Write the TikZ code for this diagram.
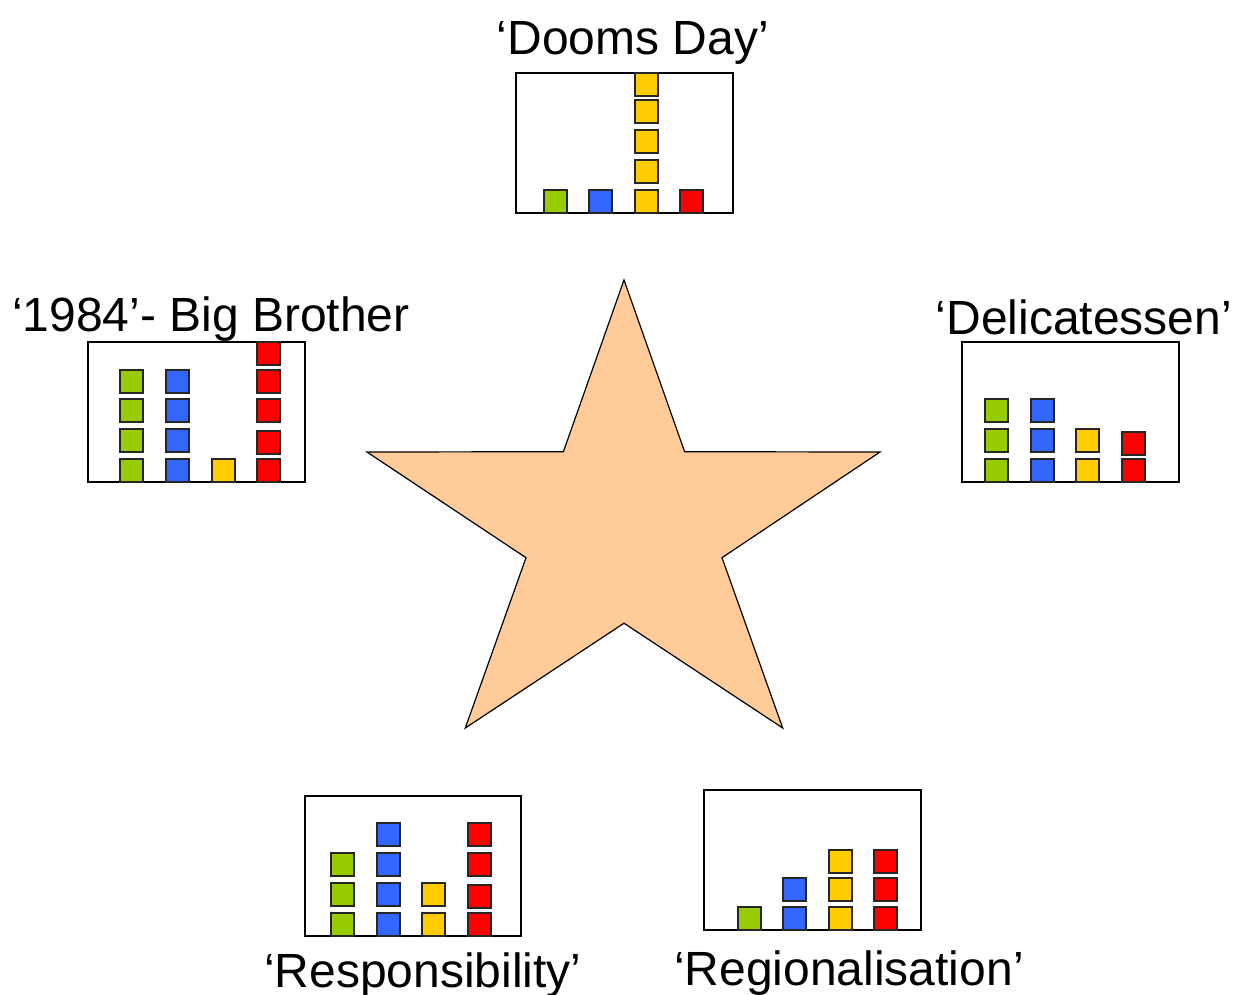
\documentclass[tikz,border=0pt]{standalone}
\usepackage{fontspec}
\setmainfont{Liberation Sans}
\definecolor{cgreen}{HTML}{99CC00}
\definecolor{cblue}{HTML}{3366FF}
\definecolor{cyellow}{HTML}{FFCC00}
\definecolor{cred}{HTML}{FF0000}
\definecolor{peach}{HTML}{FFCC99}
\tikzset{
  panel/.style={draw=black, line width=2pt, fill=white},
  sq/.style={draw=black!85, line width=1.6pt},
  lbl/.style={anchor=base, inner sep=0pt, font=\fontsize{48}{56}\selectfont},
  starshape/.style={draw=black, line width=1.2pt, fill=peach, line join=miter}
}
\newcommand{\blk}[3]{\draw[sq, fill=#3] (#1,#2) rectangle ++(23,23);}
\begin{document}
\begin{tikzpicture}[x=1pt,y=-1pt]
\useasboundingbox (0,0) rectangle (1234,994);
% star
\draw[starshape] (624,280) -- (684.6,451.7) -- (880,452) -- (722,557.7) -- (782.7,728) -- (624,623.2) -- (465.3,728) -- (526,557.7) -- (367,452) -- (563.4,451.7) -- cycle;
% labels
\node[lbl] (tDoom) at (633,54) {‘Dooms Day’};
\node[lbl] (tBig) at (211,331) {‘1984’- Big Brother};
\node[lbl] (tDeli) at (1084,334) {‘Delicatessen’};
\node[lbl] (tResp) at (423,987) {‘Responsibility’};
\node[lbl] (tReg) at (849,985) {‘Regionalisation’};
% panel 1: Dooms Day
\draw[panel] (516,73) rectangle (733,213);
\blk{544}{190}{cgreen}
\blk{589}{190}{cblue}
\foreach \y in {73,100,130,160,190} {\blk{635}{\y}{cyellow}}
\blk{680}{190}{cred}
% panel 2: 1984
\draw[panel] (88,342) rectangle (305,482);
\foreach \y in {370,399,429,459} {\blk{120}{\y}{cgreen}\blk{166}{\y}{cblue}}
\blk{212}{459}{cyellow}
\foreach \y in {342,370,399,431,459} {\blk{257}{\y}{cred}}
% panel 3: Delicatessen
\draw[panel] (962,342) rectangle (1179,482);
\foreach \y in {399,429,459} {\blk{985}{\y}{cgreen}\blk{1031}{\y}{cblue}}
\foreach \y in {429,459} {\blk{1076}{\y}{cyellow}}
\foreach \y in {432,459} {\blk{1122}{\y}{cred}}
% panel 4: Responsibility
\draw[panel] (305,796) rectangle (521,936);
\foreach \y in {853,883,913} {\blk{331}{\y}{cgreen}}
\foreach \y in {823,853,883,913} {\blk{377}{\y}{cblue}}
\foreach \y in {883,913} {\blk{422}{\y}{cyellow}}
\foreach \y in {823,853,885,913} {\blk{468}{\y}{cred}}
% panel 5: Regionalisation
\draw[panel] (704,790) rectangle (921,930);
\blk{738}{907}{cgreen}
\foreach \y in {878,907} {\blk{783}{\y}{cblue}}
\foreach \y in {850,878,907} {\blk{829}{\y}{cyellow}\blk{874}{\y}{cred}}
\end{tikzpicture}
\end{document}
